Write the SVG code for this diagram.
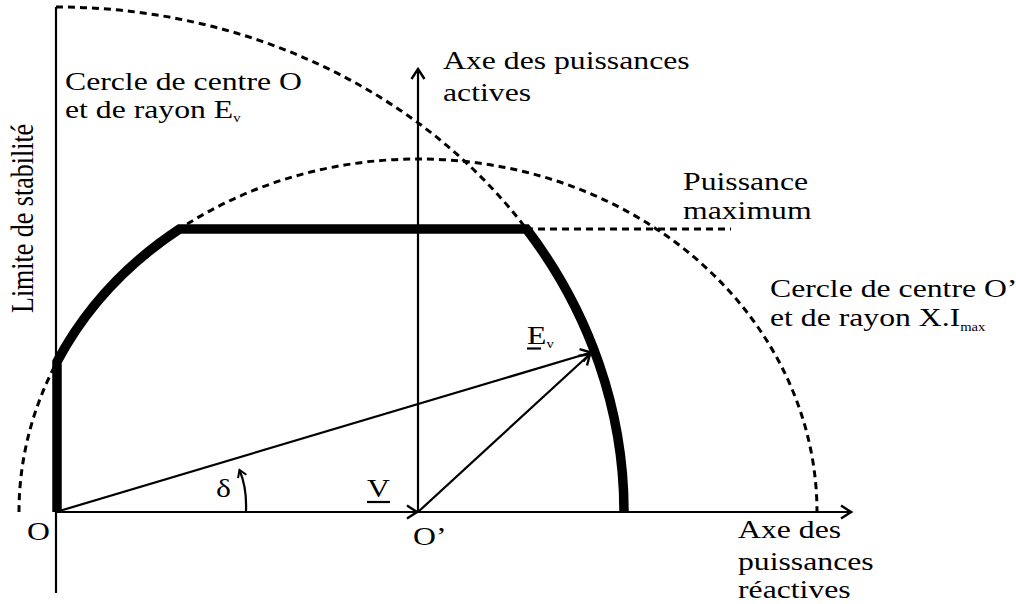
<svg xmlns="http://www.w3.org/2000/svg" width="1016" height="604" viewBox="0 0 1016 604">
<defs>
<style>
.t{font-family:"Liberation Serif","Times New Roman",serif;font-size:26px;fill:#000}
.sub{font-size:12px}
.thin{stroke:#000;stroke-width:2.2;fill:none}
.dash{stroke:#000;stroke-width:3;fill:none;stroke-dasharray:7 5}
.thick{stroke:#000;stroke-width:9.5;fill:none;stroke-linejoin:miter}
</style>
<marker id="arr" viewBox="-12 -8 14 16" markerWidth="14" markerHeight="16" refX="0" refY="0" orient="auto" markerUnits="userSpaceOnUse">
<path d="M-10,-6.5 L0,0 L-10,6.5" fill="none" stroke="#000" stroke-width="2.4"/>
</marker>
<marker id="arrs" viewBox="-10 -6 12 12" markerWidth="12" markerHeight="12" refX="0" refY="0" orient="auto" markerUnits="userSpaceOnUse">
<path d="M-7,-4.5 L0,0 L-7,4.5" fill="none" stroke="#000" stroke-width="2"/>
</marker>
</defs>
<rect width="1016" height="604" fill="#fff"/>

<g id="circles">
<path class="dash" d="M56,7 A568,505 0 0 1 526.5,229"/>
<path class="dash" d="M19,512 A399,353 0 0 1 817,512"/>
<path class="dash" d="M526,229 L731,229"/>
</g>

<g id="axes">
<path class="thin" d="M56,7 L56,593"/>
<path class="thin" d="M418,512 L851,512" marker-end="url(#arr)"/>
<path class="thin" d="M418,512 L418,69" stroke-width="1.8" marker-end="url(#arr)"/>
</g>

<g id="limit">
<path class="thick" d="M57,512 L57,361.7 A399,353 0 0 1 179.5,229 L526.5,229 A568,505 0 0 1 624,512"/>
</g>

<g id="vectors">
<path class="thin" d="M56,512 L417,512" marker-end="url(#arr)"/>
<path class="thin" d="M56,512 L591,352.5" stroke-width="2.8" marker-end="url(#arr)"/>
<path class="thin" d="M418,512 L590,354" stroke-width="2.8" marker-end="url(#arr)"/>
<path class="thin" d="M246,511 Q247,488 239.5,470" stroke-width="2" marker-end="url(#arrs)"/>
<path class="thin" d="M527,348.5 L541,348.5" stroke-width="1.6"/>
<path class="thin" d="M367,502 L390,502" stroke-width="1.6"/>
</g>

<g id="labels">
<text class="t" transform="translate(65,90) scale(1.22,1)">Cercle de centre O</text>
<text class="t" transform="translate(65,118) scale(1.22,1)">et de rayon E<tspan class="sub" dy="4">v</tspan></text>
<text class="t" transform="translate(443,69) scale(1.22,1)">Axe des puissances</text>
<text class="t" transform="translate(443,101) scale(1.22,1)">actives</text>
<text class="t" transform="translate(683,190) scale(1.22,1)">Puissance</text>
<text class="t" transform="translate(683,219) scale(1.22,1)">maximum</text>
<text class="t" transform="translate(770,297) scale(1.22,1)">Cercle de centre O’</text>
<text class="t" transform="translate(770,326) scale(1.22,1)">et de rayon X.I<tspan class="sub" dy="5">max</tspan></text>
<text class="t" transform="translate(527,344) scale(1.22,1)">E<tspan class="sub" dy="4">v</tspan></text>
<text class="t" transform="translate(216,497) scale(1.22,1)">δ</text>
<text class="t" transform="translate(367,497) scale(1.22,1)">V</text>
<text class="t" transform="translate(27,540) scale(1.22,1)">O</text>
<text class="t" transform="translate(413,545) scale(1.22,1)">O’</text>
<text class="t" transform="translate(738,538) scale(1.22,1)">Axe des</text>
<text class="t" transform="translate(738,570) scale(1.22,1)">puissances</text>
<text class="t" transform="translate(738,598) scale(1.22,1)">réactives</text>
<text class="t" transform="translate(33,313) scale(1.22,1) rotate(-90)">Limite de stabilité</text>
</g>
</svg>
